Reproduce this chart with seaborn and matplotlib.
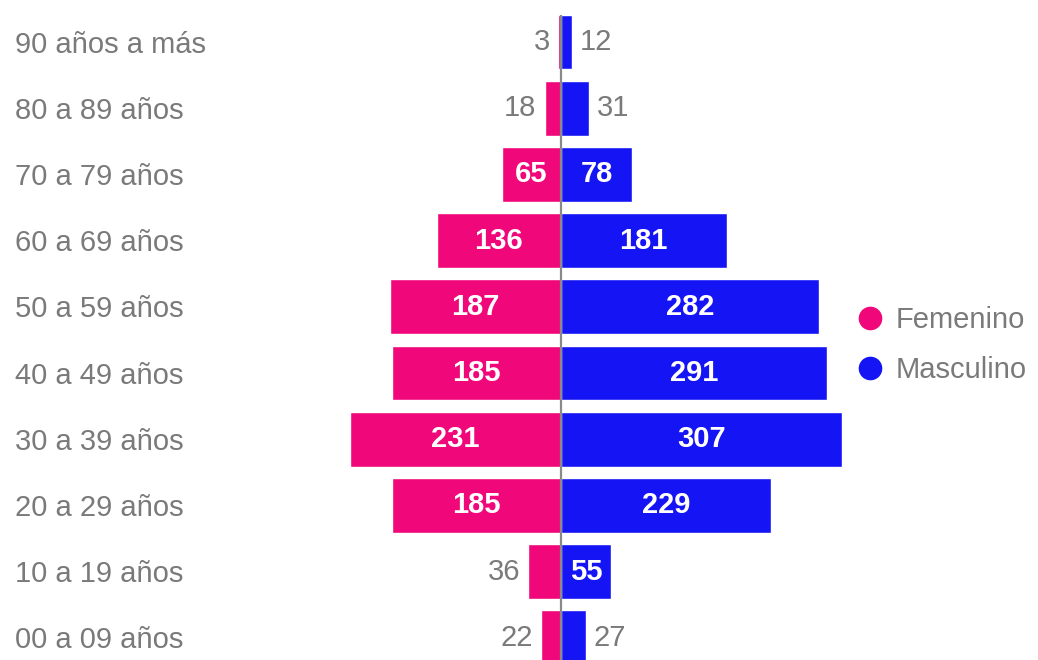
import matplotlib
matplotlib.use("Agg")
import matplotlib.pyplot as plt
import matplotlib.transforms as mtransforms
from matplotlib.lines import Line2D
import pandas as pd
import seaborn as sns

grupos = [
    "90 años a más", "80 a 89 años", "70 a 79 años", "60 a 69 años",
    "50 a 59 años", "40 a 49 años", "30 a 39 años", "20 a 29 años",
    "10 a 19 años", "00 a 09 años",
]
femenino = [3, 18, 65, 136, 187, 185, 231, 185, 36, 22]
masculino = [12, 31, 78, 181, 282, 291, 307, 229, 55, 27]
sexos = ["Femenino", "Masculino"]
colores = {"Femenino": "#F0077A", "Masculino": "#1414F5"}

GRIS = "#7a7a7a"
FS = 21

df = pd.concat([
    pd.DataFrame({"grupo": grupos, "sexo": "Femenino", "valor": [-v for v in femenino]}),
    pd.DataFrame({"grupo": grupos, "sexo": "Masculino", "valor": masculino}),
])

sns.set_theme(style="white")
plt.rcParams["font.family"] = ["Liberation Sans", "DejaVu Sans"]

fig = plt.figure(figsize=(10.38, 6.6), dpi=100)
# axes spans px 300..860 horizontally, full height
ax = fig.add_axes([300 / 1038, 0, 560 / 1038, 1])

sns.barplot(data=df, y="grupo", x="valor", hue="sexo", order=grupos,
            hue_order=sexos, palette=colores, dodge=False, orient="h",
            width=0.83, ax=ax, legend=False, saturation=1)

scale = 0.915  # px per unit
ax.set_xlim((300 - 561) / scale, (860 - 561) / scale)
ax.set_ylim((660 - 42) / 66.2, -42 / 66.2)
ax.vlines(0, -0.415, len(grupos), color="#8a8a8a", lw=1.6, zorder=5)

ax.set_xlabel("")
ax.set_ylabel("")
ax.set_xticks([])
ax.set_yticks([])
for s in ax.spines.values():
    s.set_visible(False)

pad = 8 / scale
for i, (f, m) in enumerate(zip(femenino, masculino)):
    if f >= 50:
        ax.text(-f / 2, i, str(f), ha="center", va="center", color="white",
                fontsize=FS, fontweight="bold", zorder=6)
    else:
        ax.text(-f - pad, i, str(f), ha="right", va="center", color=GRIS,
                fontsize=FS, zorder=6)
    if m >= 50:
        ax.text(m / 2, i, str(m), ha="center", va="center", color="white",
                fontsize=FS, fontweight="bold", zorder=6)
    else:
        ax.text(m + pad, i, str(m), ha="left", va="center", color=GRIS,
                fontsize=FS, zorder=6)

trans = mtransforms.blended_transform_factory(fig.transFigure, ax.transData)
for i, g in enumerate(grupos):
    ax.text(15 / 1038, i + 0.04, g, transform=trans, ha="left", va="center",
            color=GRIS, fontsize=FS, clip_on=False)

handles = [Line2D([], [], marker="o", linestyle="", markersize=16,
                  markerfacecolor=colores[s], markeredgecolor=colores[s])
           for s in sexos]
fig.legend(handles, sexos, loc="center left", bbox_to_anchor=(852 / 1038, 1 - 345 / 660),
           frameon=False, fontsize=FS, labelcolor=GRIS, handletextpad=0.3,
           labelspacing=0.75, handlelength=1.2, borderpad=0, borderaxespad=0)

fig.savefig("out.png", dpi=100)
